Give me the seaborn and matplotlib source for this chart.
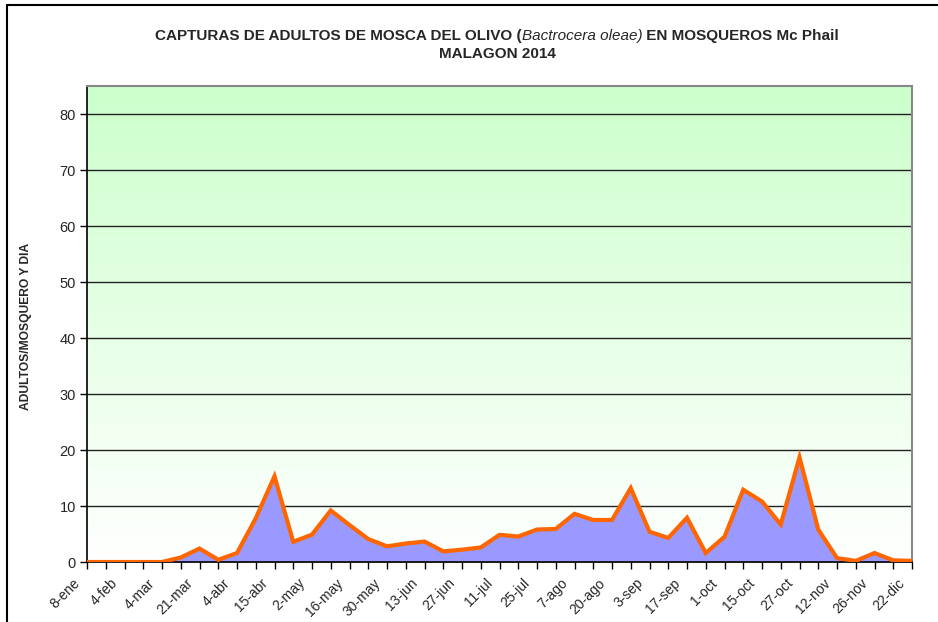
import numpy as np
import pandas as pd
import matplotlib
matplotlib.use("Agg")
import matplotlib.pyplot as plt
import matplotlib.transforms as mtransforms
import seaborn as sns
from matplotlib.colors import LinearSegmentedColormap

sns.set_theme(style="white")
plt.rcParams['font.family'] = ['Liberation Sans', 'DejaVu Sans']

# Data: sampling points (45), every other one labelled
tick_labels = ["8-ene", "4-feb", "4-mar", "21-mar", "4-abr", "15-abr", "2-may", "16-may",
               "30-may", "13-jun", "27-jun", "11-jul", "25-jul", "7-ago", "20-ago", "3-sep",
               "17-sep", "1-oct", "15-oct", "27-oct", "12-nov", "26-nov", "22-dic"]
values = [0, 0, 0, 0, 0, 0.8, 2.4, 0.4, 1.6, 7.8,
          15.3, 3.6, 4.9, 9.2, 6.6, 4.1, 2.8, 3.3, 3.65, 1.9,
          2.2, 2.6, 4.85, 4.55, 5.8, 5.9, 8.6, 7.5, 7.5, 13.2,
          5.4, 4.3, 7.9, 1.6, 4.5, 12.9, 10.8, 6.7, 18.7, 5.8,
          0.7, 0.2, 1.6, 0.3, 0.2]

df = pd.DataFrame({"idx": np.arange(len(values)), "val": values})

fig = plt.figure(figsize=(9.38, 6.22), dpi=100)
ax = fig.add_axes([87/938, 1-562/622, (912-87)/938, (562-86)/622])

# gradient background
cmap = LinearSegmentedColormap.from_list("g", ["#ffffff", "#ccffcc"])
grad = np.linspace(0, 1, 256).reshape(-1, 1)
ax.imshow(grad, aspect='auto', cmap=cmap, origin='lower',
          extent=[0, len(values)-1, 0, 85], zorder=0)

for yv in range(10, 90, 10):
    ax.axhline(yv, color='#222222', lw=1.0, zorder=1)

ax.fill_between(df["idx"], df["val"], 0, color='#9999ff', zorder=2, lw=0)
sns.lineplot(data=df, x="idx", y="val", ax=ax, color='#ff6600', lw=3, zorder=3,
             solid_joinstyle='miter')

ax.set_xlim(0, len(values)-1)
ax.set_ylim(0, 85)
ax.set_yticks(range(0, 90, 10))
ax.set_yticklabels([str(v) for v in range(0, 90, 10)], fontsize=10.5)
ax.set_xticks(np.arange(len(values)))
ax.set_xticklabels([""] * len(values))
offset = mtransforms.ScaledTranslation(-14/100, -14/100, fig.dpi_scale_trans)
trans = ax.get_xaxis_transform() + offset
for k, t in enumerate(tick_labels):
    ax.text(2*k, 0, t, transform=trans, rotation=45, ha='right', va='top',
            rotation_mode='anchor', fontsize=10, color='#262626', clip_on=False)
ax.tick_params(axis='x', direction='out', length=5, width=1, color='black', pad=4, bottom=True)
ax.tick_params(axis='y', direction='out', length=5, width=1, color='black', pad=3, left=True)
ax.set_xlabel("")
ax.set_ylabel("ADULTOS/MOSQUERO Y DIA", fontsize=8.7, fontweight='bold')
ax.yaxis.set_label_coords((32-87)/825, 1 - (326-86)/476)

for s in ['top', 'right']:
    ax.spines[s].set_color('#888888')
    ax.spines[s].set_linewidth(1.5)
for s in ['left', 'bottom']:
    ax.spines[s].set_color('black')
    ax.spines[s].set_linewidth(1.2)

# title with mixed styles
fig.canvas.draw()
renderer = fig.canvas.get_renderer()
pieces = [("CAPTURAS DE ADULTOS DE MOSCA DEL OLIVO (", 'bold', 'normal'),
          ("Bactrocera oleae)", 'normal', 'italic'),
          (" EN MOSQUEROS Mc Phail", 'bold', 'normal')]
fs = 11
texts = []
for s, w, st in pieces:
    t = fig.text(0, 0, s, fontsize=fs, fontweight=w, fontstyle=st, va='baseline', ha='left')
    texts.append(t)
widths = [t.get_window_extent(renderer).width for t in texts]
total = sum(widths)
cx = 497
x0 = cx - total/2
ybase = 1 - 40/622
for t, w in zip(texts, widths):
    t.set_position((x0/938, ybase))
    x0 += w
fig.text(cx/938, 1 - 58/622, "MALAGON 2014", fontsize=fs, fontweight='bold',
         ha='center', va='baseline')

# outer chart frame (left and top visible)
fig.add_artist(plt.Line2D([7/938, 7/938], [0, 1-5/622], color='black', lw=1.5,
                          transform=fig.transFigure))
fig.add_artist(plt.Line2D([7/938, 1], [1-5/622, 1-5/622], color='black', lw=1.5,
                          transform=fig.transFigure))

fig.savefig("out.png", dpi=100)
